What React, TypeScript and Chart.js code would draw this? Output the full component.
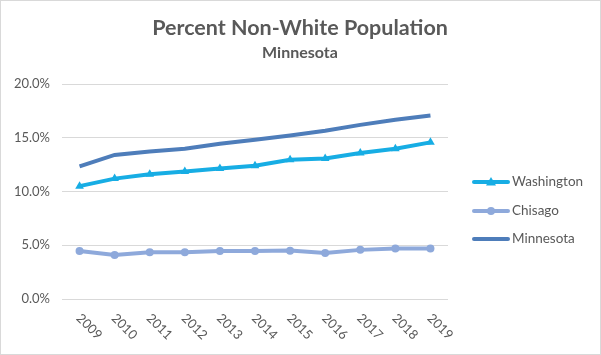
import React, { useEffect, useRef } from "react";
import { Chart, registerables } from "chart.js";
Chart.register(...registerables);

const titleText = "Percent Non-White Population";
const subtitleText = "Minnesota";
const years = ["2009", "2010", "2011", "2012", "2013", "2014", "2015", "2016", "2017", "2018", "2019"];
const washington = [10.5, 11.2, 11.6, 11.86, 12.14, 12.4, 12.95, 13.08, 13.58, 13.98, 14.57];
const chisago = [4.47, 4.1, 4.35, 4.35, 4.47, 4.47, 4.5, 4.29, 4.57, 4.69, 4.69];
const minnesota = [12.33, 13.4, 13.73, 13.98, 14.44, 14.82, 15.2, 15.65, 16.2, 16.68, 17.08];
const yMin = 0;
const yMax = 20;
const yStep = 5;

const TEXT = "#595959";
const FONT = "Lato, 'Open Sans', sans-serif";

const decor = {
  id: "decor",
  afterDraw(chart: any) {
    const ctx = chart.ctx as CanvasRenderingContext2D;
    ctx.save();
    // border
    ctx.strokeStyle = "#D9D9D9";
    ctx.lineWidth = 1;
    ctx.strokeRect(0.5, 0.5, chart.width - 1, chart.height - 1);
    // titles
    ctx.fillStyle = TEXT;
    ctx.textAlign = "center";
    ctx.textBaseline = "middle";
    ctx.font = `bold 21.5px ${FONT}`;
    ctx.fillText(titleText, 300, 28);
    ctx.font = `bold 16px ${FONT}`;
    ctx.fillText(subtitleText, 300, 53);
    // x labels rotated clockwise
    const xs = chart.scales.x;
    ctx.font = `13px ${FONT}`;
    ctx.textAlign = "left";
    (chart.data.labels as string[]).forEach((l, i) => {
      const x = xs.getPixelForValue(i);
      ctx.save();
      ctx.translate(x - 1, xs.top + 17);
      ctx.rotate(Math.PI / 4);
      ctx.fillText(l, 0, 0);
      ctx.restore();
    });
    // legend
    const ly = [182, 211, 239];
    chart.data.datasets.forEach((ds: any, i: number) => {
      const y = ly[i];
      ctx.strokeStyle = ds.borderColor;
      ctx.lineWidth = 4;
      ctx.lineCap = "round";
      ctx.beginPath();
      ctx.moveTo(474, y);
      ctx.lineTo(508, y);
      ctx.stroke();
      ctx.fillStyle = ds.borderColor;
      if (ds.pointStyle === "triangle") {
        const r = 5;
        ctx.beginPath();
        ctx.moveTo(491, y - r);
        ctx.lineTo(491 + r, y + r * 0.7);
        ctx.lineTo(491 - r, y + r * 0.7);
        ctx.closePath();
        ctx.fill();
      } else if (ds.pointStyle === "circle" && ds.pointRadius > 0) {
        ctx.beginPath();
        ctx.arc(491, y, 4, 0, Math.PI * 2);
        ctx.fill();
      }
      ctx.fillStyle = TEXT;
      ctx.font = `13.5px ${FONT}`;
      ctx.textAlign = "left";
      ctx.textBaseline = "middle";
      ctx.fillText(ds.label, 512, y);
    });
    ctx.restore();
  },
};

export default function App() {
  const ref = useRef<HTMLCanvasElement>(null);
  useEffect(() => {
    if (!ref.current) return;
    const chart = new Chart(ref.current, {
      type: "line",
      data: {
        labels: years,
        datasets: [
          {
            label: "Washington",
            data: washington,
            borderColor: "#17ADE4",
            backgroundColor: "#17ADE4",
            borderWidth: 4,
            pointStyle: "triangle",
            pointRadius: 5,
            pointBorderWidth: 0,
          },
          {
            label: "Chisago",
            data: chisago,
            borderColor: "#8EA9DB",
            backgroundColor: "#8EA9DB",
            borderWidth: 4,
            pointStyle: "circle",
            pointRadius: 4,
            pointBorderWidth: 0,
          },
          {
            label: "Minnesota",
            data: minnesota,
            borderColor: "#4E7DBA",
            backgroundColor: "#4E7DBA",
            borderWidth: 4,
            pointStyle: "circle",
            pointRadius: 0,
          },
        ],
      },
      options: {
        animation: false,
        responsive: false,
        layout: { padding: { left: 0, right: 153, top: 84, bottom: 0 } },
        plugins: { legend: { display: false }, title: { display: false }, tooltip: { enabled: false } },
        scales: {
          x: {
            type: "category",
            offset: true,
            grid: { display: false },
            border: { display: false },
            ticks: { display: false },
            afterFit: (s: any) => {
              s.height = 56;
            },
          },
          y: {
            min: yMin,
            max: yMax,
            grid: { color: "#D9D9D9", drawTicks: false, lineWidth: 1 },
            border: { display: false },
            ticks: {
              stepSize: yStep,
              padding: 12,
              color: TEXT,
              font: { family: FONT, size: 13 },
              callback: (v: any) => Number(v).toFixed(1) + "%",
            },
            afterFit: (s: any) => {
              s.width = 62;
            },
          },
        },
      },
      plugins: [decor],
    });
    return () => chart.destroy();
  }, []);
  return (
    <div style={{ position: "absolute", left: 0, top: 0, width: 601, height: 355, background: "#fff" }}>
      <canvas ref={ref} width={601} height={355} />
    </div>
  );
}
